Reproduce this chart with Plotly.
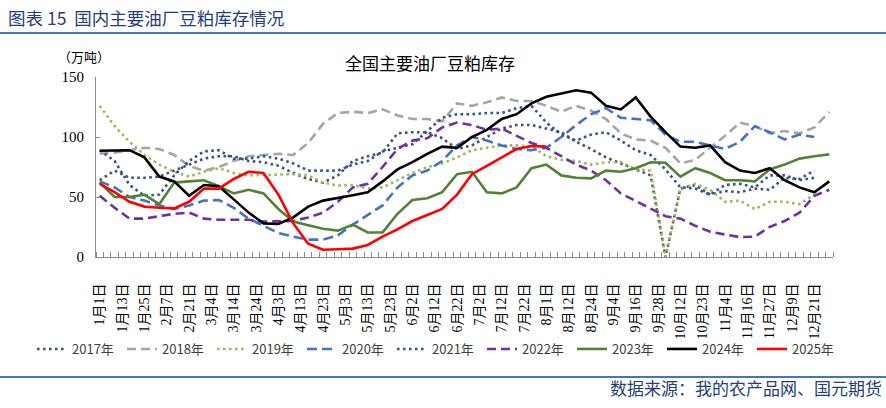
import plotly.graph_objects as go

# ---------------- data ----------------
tick_labels = ["1月1日", "1月13日", "1月25日", "2月7日", "2月21日", "3月4日", "3月14日",
               "3月24日", "4月3日", "4月13日", "4月23日", "5月3日", "5月13日", "5月23日",
               "6月2日", "6月12日", "6月22日", "7月2日", "7月12日", "7月22日", "8月1日",
               "8月12日", "8月24日", "9月4日", "9月16日", "9月28日", "10月12日", "10月23日",
               "11月4日", "11月16日", "11月27日", "12月9日", "12月21日"]
n_categories = 99                      # date categories on the x axis
label_step = 3                         # a label on every third category
obs_index = list(range(0, 99, 2))      # category index of each weekly observation

s2017 = [64, 72, 66, 66, 67, 72, 77, 82, 84, 84, 80, 79, 76, 70, 65, 62, 68, 80, 84, 87,
         103, 104, 104, 99, 90, 93, 100, 107, 110, 110, 107, 104, 96, 90, 83, 78, 73, 68, 0, 57,
         60, 52, 55, 54, 57, 56, 66, 65, 72, None]
s2018 = [86, 87, 89, 91, 90, 85, 76, 72, 75, 80, 84, 85, 86, 85, 95, 111, 120, 121, 120, 123,
         118, 115, 115, 113, 128, 126, 129, 133, 130, 130, 126, 121, 126, 122, 115, 103, 98, 97, 91, 78,
         81, 91, 101, 112, 109, 103, 105, 103, 108, 121]
s2019 = [126, 109, 96, 85, 77, 71, 67, 71, 74, 70, 68, 68.5, 69, 69, 68, 62, 59.5, 60, 57, 58,
         64, 70, 75, 78, 83, 89, 91, 93, 93, 92, 84, 81, 80, 77, 79, 79, 73, 72, 0, 57,
         61, 56, 46, 47, 40, 46, 46, 44, 52, None]
s2020 = [63, 58, 50, 47, 43, 40, 43, 47, 47.5, 41, 32, 26, 20, 17, 14.5, 14.5, 18, 27, 35, 43,
         58, 68, 72, 80, 93, 100, 97, 93, 90, 89, 91, 100, 110, 119, 124, 116, 115, 114, 102, 96,
         96, 93, 90, 96, 109, 104, 98, 102, 100, None]
s2021 = [89, 80, 60, 51, 52, 68, 80, 88, 89, 82, 82, 84, 82, 78, 72, 72, 72, 77, 80, 88,
         91, 94, 105, 116, 119, 119, 120, 120, 124, 126, 112, 102, 97, 102, 104, 97, 89, 85, 73, 58,
         57, 52, 60, 61, 58, 68, 68, 64, 66, None]
s2022 = [51, 41, 32, 32, 34, 36, 37, 32, 31, 31, 31, 29.5, 29.5, 30, 33, 37, 46, 58, 61, 75,
         90, 97, 99, 108, 112, 110, 106, 107, 101, 95, 91, 84, 77, 72, 64, 53, 46.5, 40, 34, 32,
         26, 21, 19, 16.5, 17, 25, 30, 37, 51, 56]
s2023 = [62, 50, 50, 52, 44, 62, 63, 64, 59, 53, 56, 53, 40, 29.5, 26.5, 23.5, 22, 27, 20.4, 20.5,
         36, 47.5, 49, 54, 69, 71, 54, 53, 58, 74, 77, 68, 66, 65.5, 72, 71, 74, 79, 78.6, 67,
         74, 70, 64, 64, 63, 73, 77, 82, 84, 85.5]
s2024 = [88.5, 88.5, 89, 83, 67, 63, 51, 60, 59, 48, 37, 28, 27.5, 33, 42, 47, 49, 51.5, 54, 63,
         73, 79, 86, 92, 91, 100, 106, 115, 119, 128, 133.5, 136, 139, 137, 126, 123, 133, 117, 104, 92,
         91, 93, 79, 72, 70, 74, 64, 58, 54, 63]
s2025 = [61, 54, 46, 42, 41, 40.5, 46, 57, 57, 65, 71, 70, 52, 28, 11, 6, 6.5, 7, 10, 17,
         23, 30, 35, 40, 52, 69, 76, 83, 90, 92.5, 92] + [None] * 19

series_names = ["2017年", "2018年", "2019年", "2020年", "2021年", "2022年", "2023年", "2024年", "2025年"]
series_values = [s2017, s2018, s2019, s2020, s2021, s2022, s2023, s2024, s2025]

# ---------------- styles ----------------
styles = [
    dict(color="#44546A", width=2.6, dash="2.6px,3.4px"),
    dict(color="#A5A5A5", width=2.6, dash="9px,5px"),
    dict(color="#9BBB59", width=2.6, dash="2.6px,3.4px"),
    dict(color="#4472C4", width=2.6, dash="10px,5px"),
    dict(color="#2F5597", width=2.6, dash="2.6px,3.4px"),
    dict(color="#7030A0", width=2.6, dash="9px,5px"),
    dict(color="#548235", width=2.6, dash="solid"),
    dict(color="#000000", width=2.6, dash="solid"),
    dict(color="#FF0000", width=2.6, dash="solid"),
]

fig = go.Figure()
for name, vals, st in zip(series_names, series_values, styles):
    fig.add_trace(go.Scatter(x=obs_index, y=vals, name=name, mode="lines",
                             line=st, connectgaps=False))

# pixel helpers for paper coordinates (plot area 96..833 x, 77..257 y)
L, R, T, B = 96, 833, 77, 257
def px(x):
    return (x - L) / (R - L)
def py(y):
    return (B - y) / (B - T)

NAVY = "#263E7A"
CJK = "Noto Sans CJK SC"
SERIF_CJK = "Liberation Serif, Noto Sans CJK SC"

fig.update_layout(
    template="none",
    width=886, height=408,
    margin=dict(l=L, r=886 - R, t=T, b=408 - B, pad=0),
    paper_bgcolor="white", plot_bgcolor="white",
    showlegend=True,
    legend=dict(orientation="h", x=px(32), y=py(349), xanchor="left", yanchor="middle",
                font=dict(family=CJK, size=13, color="#404040"),
                entrywidth=45, entrywidthmode="pixels", bgcolor="rgba(0,0,0,0)",
                traceorder="normal"),
    xaxis=dict(range=[-0.5, n_categories - 0.5], automargin=False,
               tickmode="array",
               tickvals=list(range(0, n_categories, label_step))[:len(tick_labels)],
               ticktext=tick_labels, tickangle=-90, ticks="",
               tickfont=dict(family=SERIF_CJK, size=14, color="#000"),
               ticklabelstandoff=20,
               showline=True, linecolor="#8C8C8C", linewidth=1, showgrid=False, zeroline=False,
               minor=dict(tickmode="linear", tick0=-0.5, dtick=1, ticks="inside",
                          ticklen=5, tickcolor="#8C8C8C", tickwidth=1, showgrid=False)),
    yaxis=dict(range=[0, 150], automargin=False, tickmode="array", tickvals=[0, 50, 100, 150],
               ticks="inside", ticklen=4, tickcolor="#8C8C8C",
               tickfont=dict(family="Liberation Serif", size=15, color="#000"),
               ticklabelstandoff=8,
               showline=True, linecolor="#8C8C8C", linewidth=1, showgrid=False, zeroline=False),
    shapes=[
        dict(type="line", xref="paper", yref="paper", x0=px(0), x1=px(886), y0=py(33), y1=py(33),
             line=dict(color="#4472C4", width=2)),
        dict(type="line", xref="paper", yref="paper", x0=px(0), x1=px(886), y0=py(377), y1=py(377),
             line=dict(color="#4472C4", width=2)),
    ],
    annotations=[
        dict(text="图表 15\u00a0\u00a0国内主要油厂豆粕库存情况", xref="paper", yref="paper",
             x=px(6), y=py(17), xanchor="left", yanchor="middle", showarrow=False,
             font=dict(family=CJK, size=17.5, color=NAVY)),
        dict(text="全国主要油厂豆粕库存", xref="paper", yref="paper",
             x=px(430), y=py(62), xanchor="center", yanchor="middle", showarrow=False,
             font=dict(family=CJK, size=17, color="#000")),
        dict(text="（万吨）", xref="paper", yref="paper",
             x=px(84), y=py(57), xanchor="center", yanchor="middle", showarrow=False,
             font=dict(family=CJK, size=13, color="#000")),
        dict(text="数据来源：我的农产品网、国元期货", xref="paper", yref="paper",
             x=px(884), y=py(387), xanchor="right", yanchor="middle", showarrow=False,
             font=dict(family=CJK, size=17, color=NAVY)),
    ],
)

fig.write_html("out.html", config={"displayModeBar": False},
               post_script="document.body.style.margin='0';")
